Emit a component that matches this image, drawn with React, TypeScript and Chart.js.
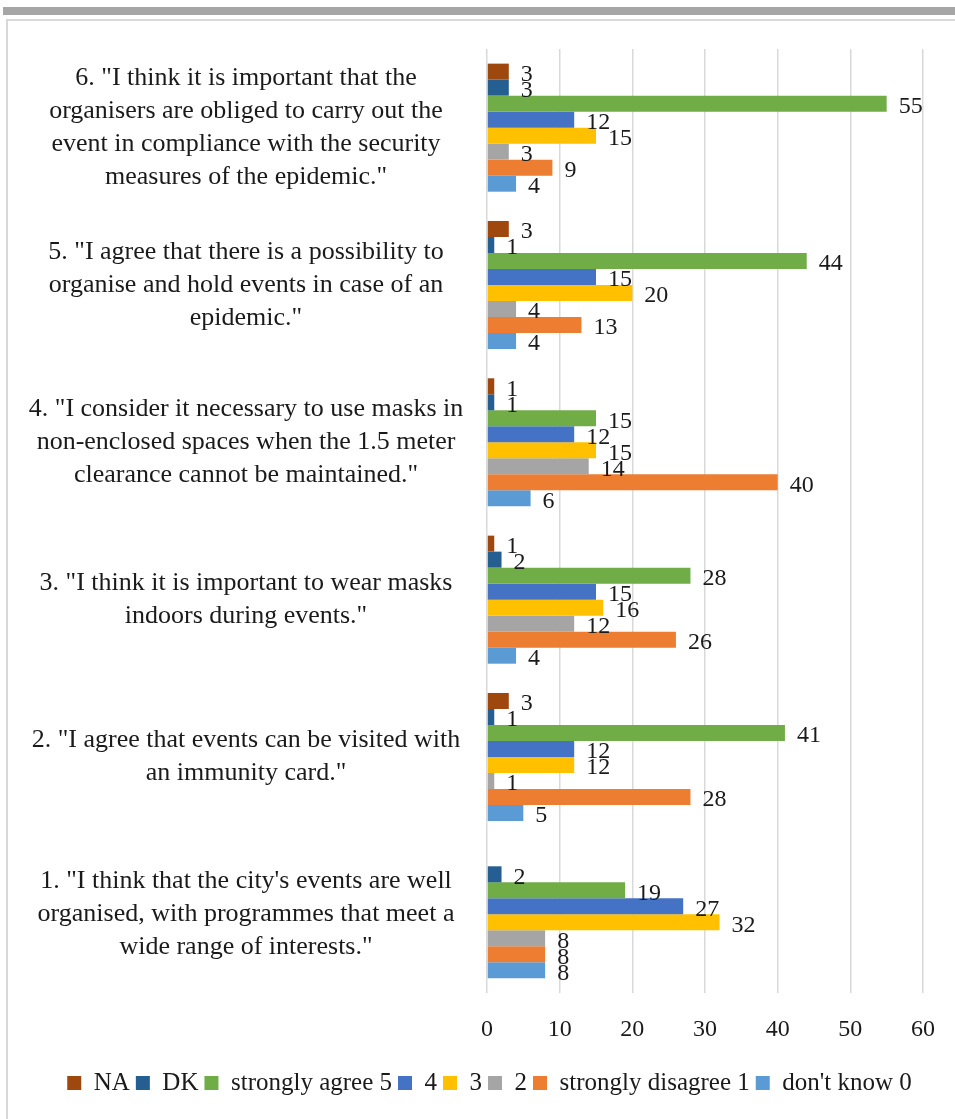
import React, { useEffect, useRef } from 'react';
import { Chart, registerables } from 'chart.js';

Chart.register(...registerables);

const categories: string[][] = [
  ['6. "I think it is important that the', 'organisers are obliged to carry out the', 'event in compliance with the security', 'measures of the epidemic."'],
  ['5. "I agree that there is a possibility to', 'organise and hold events in case of an', 'epidemic."'],
  ['4. "I consider it necessary to use masks in', 'non-enclosed spaces when the 1.5 meter', 'clearance cannot be maintained."'],
  ['3. "I think it is important to wear masks', 'indoors during events."'],
  ['2. "I agree that events can be visited with', 'an immunity card."'],
  ['1. "I think that the city\'s events are well', 'organised, with programmes that meet a', 'wide range of interests."'],
];

const seriesNames = ['NA', 'DK', 'strongly agree 5', '4', '3', '2', 'strongly disagree 1', "don't know 0"];
const seriesColors = ['#9E480E', '#255E91', '#70AD47', '#4472C4', '#FFC000', '#A5A5A5', '#ED7D31', '#5B9BD5'];

const naValues = [3, 3, 1, 1, 3, null];
const dkValues = [3, 1, 1, 2, 1, 2];
const agree5Values = [55, 44, 15, 28, 41, 19];
const fourValues = [12, 15, 12, 15, 12, 27];
const threeValues = [15, 20, 15, 16, 12, 32];
const twoValues = [3, 4, 14, 12, 1, 8];
const disagree1Values = [9, 13, 40, 26, 28, 8];
const dontKnow0Values = [4, 4, 6, 4, 5, 8];

const xMin = 0;
const xMax = 60;
const xStep = 10;

const FONT = '"Liberation Serif", "Times New Roman", serif';
const TEXT = '#1a1a1a';
const CAT_SIZE = 26;

const valueLabels = {
  id: 'valueLabels',
  afterDatasetsDraw(chart: any) {
    const ctx = chart.ctx;
    ctx.save();
    ctx.font = `24px ${FONT}`;
    ctx.fillStyle = TEXT;
    ctx.textAlign = 'left';
    ctx.textBaseline = 'middle';
    chart.data.datasets.forEach((ds: any, i: number) => {
      const meta = chart.getDatasetMeta(i);
      meta.data.forEach((bar: any, j: number) => {
        const v = ds.data[j];
        if (v == null) return;
        ctx.fillText(String(v), bar.x + 12, bar.y + 3);
      });
    });
    ctx.restore();
  },
};

// centre the legend under the full frame rather than the left-aligned layout box
const legendShift = {
  id: 'legendShift',
  afterLayout(chart: any) {
    const lg = chart.legend;
    if (lg) {
      lg.left += 28;
      lg.right += 28;
    }
  },
};

export default function App() {
  const ref = useRef<HTMLCanvasElement | null>(null);

  useEffect(() => {
    if (!ref.current) return;
    const m = document.createElement('canvas').getContext('2d')!;
    m.font = `${CAT_SIZE}px ${FONT}`;
    let widest = 0;
    categories.forEach((lines) => lines.forEach((l) => { widest = Math.max(widest, m.measureText(l).width); }));
    const yPad = Math.max(0, 487 - 246 - widest / 2);

    const allValues = [naValues, dkValues, agree5Values, fourValues, threeValues, twoValues, disagree1Values, dontKnow0Values];
    const chart = new Chart(ref.current, {
      type: 'bar',
      data: {
        labels: categories,
        datasets: allValues.map((vals, i) => ({
          label: seriesNames[i],
          data: vals,
          backgroundColor: seriesColors[i],
          borderWidth: 0,
          barPercentage: 1,
          categoryPercentage: 0.814,
        })),
      },
      options: {
        indexAxis: 'y',
        animation: false,
        responsive: false,
        maintainAspectRatio: false,
        layout: { padding: { left: 0, right: 32, top: 49, bottom: 13.5 } },
        scales: {
          x: {
            min: xMin,
            max: xMax,
            ticks: { stepSize: xStep, font: { family: FONT, size: 24 }, color: TEXT, padding: 22.5 },
            grid: { color: '#d9d9d9', lineWidth: 1.5, drawTicks: false },
            border: { display: false },
            afterFit: (s: any) => { s.height = 71.5; s.paddingLeft = 0; s.paddingRight = 0; },
          },
          y: {
            grid: { display: false, drawTicks: false },
            border: { display: false },
            ticks: {
              crossAlign: 'center',
              padding: yPad,
              autoSkip: false,
              font: { family: FONT, size: CAT_SIZE, lineHeight: 33 / CAT_SIZE },
              color: TEXT,
            },
            afterFit: (s: any) => { s.width = 487; s.paddingTop = 0; s.paddingBottom = 0; },
          },
        },
        plugins: {
          legend: {
            position: 'bottom',
            labels: { boxWidth: 14, boxHeight: 14, padding: 6, font: { family: FONT, size: 25 }, color: TEXT },
          },
          tooltip: { enabled: false },
        },
      } as any,
      plugins: [valueLabels, legendShift],
    });
    return () => chart.destroy();
  }, []);

  return (
    <div style={{ position: 'absolute', left: 0, top: 0, width: 955, height: 1119, background: '#fff', overflow: 'hidden' }}>
      <div style={{ position: 'absolute', left: 3, right: 0, top: 7, height: 8, background: '#a6a6a6' }} />
      <div style={{ position: 'absolute', left: 6, top: 19, width: 980, height: 1130, border: '2px solid #d9d9d9', boxSizing: 'border-box' }} />
      <canvas ref={ref} width={955} height={1119} style={{ position: 'absolute', left: 0, top: 0 }} />
    </div>
  );
}
